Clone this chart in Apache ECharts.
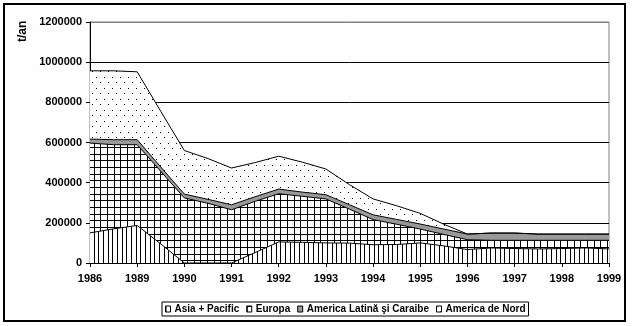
<!DOCTYPE html>
<html><head><meta charset="utf-8">
<script src="https://cdn.jsdelivr.net/npm/echarts@6/dist/echarts.min.js"></script>
<style>html,body{margin:0;padding:0;background:#fff}#c{width:636px;height:326px}</style>
</head><body><div id="c"></div>
<script>
// Tick labels (years) — mid points between labelled years are also data points
const years = ['1986','1989','1990','1991','1992','1993','1994','1995','1996','1997','1998','1999'];
const yTicks = [0,200000,400000,600000,800000,1000000,1200000];
const seriesNames = ['Asia + Pacific','Europa','America Latină şi Caraibe','America de Nord'];
// values in t/an at the 23 points (year, mid, year, mid, ...)
const asiaPacific = [150000,170000,187000,95000,0,0,0,52000,105000,103000,100000,99000,91000,92000,100000,85000,67000,75000,72000,70000,72000,75000,70000];
const europa      = [447000,419000,402000,361000,324000,297000,265000,255000,240000,229000,219000,169000,125000,101000,69000,57000,49000,38000,41000,43000,41000,38000,43000];
const americaLat  = [20000,25000,25000,22000,19000,20000,25000,23000,23000,21000,21000,22000,24000,24000,25000,27000,28000,36000,36000,31000,31000,31000,31000];
const americaNord = [340000,343000,338000,277000,217000,203000,183000,170000,164000,149000,128000,100000,79000,68000,53000,24000,0,0,0,0,0,0,0];

const categories = [];
years.forEach((y,i)=>{ categories.push(y); if(i<years.length-1) categories.push(y+'-'+years[i+1]); });

function makePattern(w,h,draw){
  const c=document.createElement('canvas'); c.width=w; c.height=h;
  const g=c.getContext('2d'); g.fillStyle='#fff'; g.fillRect(0,0,w,h); g.fillStyle='#000'; draw(g);
  return {image:c, repeat:'repeat'};
}
const pStripes = makePattern(14,2,g=>{[0,5,10].forEach(x=>g.fillRect(x,0,1,2));});
const pGrid = makePattern(20,20,g=>{[0,7,14].forEach(v=>{g.fillRect(v,0,1,20);g.fillRect(0,v,20,1);});});
const pDots = makePattern(8,11,g=>{g.fillRect(0,0,1,1);g.fillRect(4,5,1,1);});
const gray = '#999999';
const fills = [pStripes,pGrid,gray,pDots];
const datas = [asiaPacific,europa,americaLat,americaNord];
const FONT = "'Liberation Sans', Arial, sans-serif";

const chart = echarts.init(document.getElementById('c'), null, {renderer:'canvas'});
chart.setOption({
  animation:false,
  backgroundColor:'#fff',
  grid:{left:90,right:27,top:22,bottom:63,show:true,borderColor:'#808080',borderWidth:1,backgroundColor:'transparent'},
  xAxis:{type:'category',data:categories,boundaryGap:false,
    axisLine:{lineStyle:{color:'#000',width:1}},
    axisTick:{show:true,length:4,interval:(i)=>i%2===0,lineStyle:{color:'#000'}},
    axisLabel:{interval:(i)=>i%2===0,formatter:(v)=>years.includes(v)?v:'',color:'#000',fontFamily:FONT,fontWeight:'bold',fontSize:11,margin:10},
    splitLine:{show:false}},
  yAxis:{type:'value',min:yTicks[0],max:yTicks[yTicks.length-1],interval:yTicks[1]-yTicks[0],
    axisLine:{show:true,lineStyle:{color:'#000',width:1}},
    axisTick:{show:true,length:4,inside:false,lineStyle:{color:'#000'}},
    axisLabel:{formatter:(v)=>String(v),color:'#000',fontFamily:FONT,fontWeight:'bold',fontSize:11,margin:8},
    splitLine:{show:true,lineStyle:{color:['#000','#000','#000','#000','#000','#000','#808080'],width:1}}},
  legend:{left:162,top:302,orient:'horizontal',borderColor:'#000',borderWidth:1,padding:[2,3,2,3],
    itemWidth:5,itemHeight:6,itemGap:7,icon:'rect',
    textStyle:{color:'#000',fontFamily:FONT,fontWeight:'bold',fontSize:10,padding:[0,0,0,-1]},
    data:seriesNames.map((n,i)=>({name:n,icon:'rect',itemStyle:{color:fills[i],borderColor:'#000',borderWidth:1}}))},
  graphic:[
    {type:'rect',shape:{x:4,y:4,width:621,height:317},style:{fill:null,stroke:'#000',lineWidth:2},silent:true},
    {type:'text',x:23,y:42,rotation:Math.PI/2,style:{text:'t/an',fill:'#000',font:"bold 12px 'Liberation Sans', Arial",textAlign:'left',textVerticalAlign:'middle'},silent:true}
  ],
  series:seriesNames.map((n,i)=>({
    name:n,type:'line',stack:'total',data:datas[i],symbol:'none',showSymbol:false,
    lineStyle:{color:'#000',width:1},
    itemStyle:{color:'#000'},
    areaStyle:{color:fills[i],opacity:1},
    emphasis:{disabled:true},z:2
  }))
});
</script></body></html>
